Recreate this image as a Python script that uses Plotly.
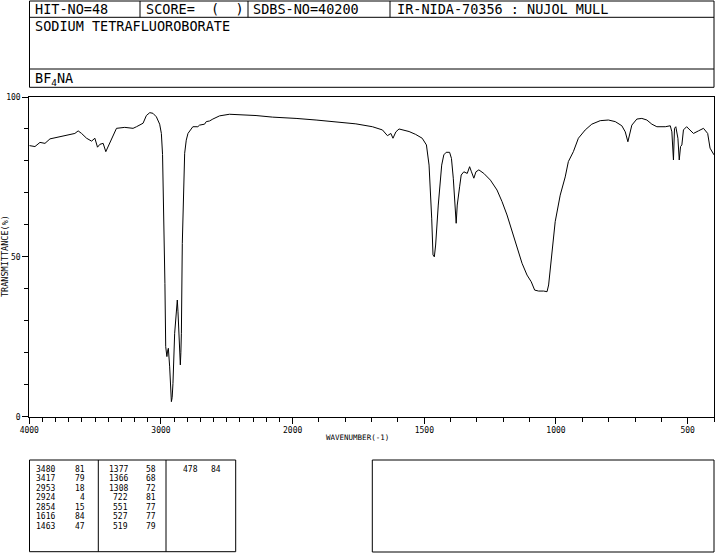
import numpy as np
import plotly.graph_objects as go

W, H = 715, 553

# ---------------- data ----------------
wavenumber = [4000, 3957, 3919, 3881, 3843, 3792, 3742, 3692, 3654, 3629, 3603, 3565, 3527, 3502,
              3482, 3464, 3439, 3419, 3402, 3376, 3338, 3275, 3212, 3186, 3161, 3136, 3111, 3085,
              3061, 3035, 3010, 2997, 2988, 2983, 2977, 2970, 2964, 2960, 2955, 2950, 2944, 2934,
              2927, 2921, 2915, 2909, 2896, 2883, 2876, 2871, 2866, 2858, 2853, 2849, 2845, 2838,
              2830, 2820, 2808, 2795, 2758, 2720, 2707, 2669, 2656, 2631, 2606, 2555, 2480, 2379,
              2278, 2152, 2051, 1987, 1911, 1836, 1760, 1697, 1659, 1640, 1627, 1619, 1608, 1596,
              1558, 1533, 1508, 1492, 1482, 1472, 1467, 1462, 1457, 1447, 1434, 1426, 1417, 1404,
              1397, 1390, 1384, 1379, 1375, 1371, 1366, 1360, 1350, 1337, 1328, 1321, 1312, 1304,
              1293, 1274, 1249, 1224, 1205, 1186, 1167, 1148, 1129, 1110, 1094, 1081, 1066, 1047,
              1034, 1028, 1015, 1003, 984, 965, 953, 934, 915, 889, 864, 832, 801, 775, 750, 737,
              727, 722, 712, 693, 674, 655, 636, 617, 585, 566, 560, 554, 550, 545, 537, 532, 527,
              522, 516, 504, 491, 478, 459, 440, 424, 415, 400]
transmittance = [84.8, 84.5, 85.8, 85.5, 86.9, 87.4, 87.7, 88.3, 88.6, 89.4, 88.6, 87.1, 86.2, 87.1,
                 84.3, 85.2, 85.5, 82.9, 84.5, 87.1, 90.2, 90.5, 90.2, 90.7, 91.2, 91.8, 94.2, 95.1,
                 94.9, 93.8, 91.5, 88.6, 82.0, 72.0, 57.4, 41.7, 21.9, 19.5, 18.8, 20.5, 21.4, 15.6,
                 8.0, 4.7, 6.0, 10.4, 26.1, 33.9, 36.5, 33.0, 28.2, 21.9, 16.2, 20.0, 26.1, 54.2,
                 72.0, 82.4, 86.5, 88.6, 90.7, 90.7, 91.2, 91.5, 92.3, 92.5, 93.1, 94.1, 94.6, 94.4,
                 94.2, 93.7, 93.5, 93.3, 92.8, 92.3, 91.6, 90.7, 89.7, 87.9, 88.6, 87.1, 89.1, 90.0,
                 89.2, 88.3, 87.1, 85.0, 78.7, 62.1, 50.6, 50.0, 53.7, 66.2, 78.7, 81.9, 82.7, 82.7,
                 80.8, 74.6, 67.3, 60.5, 66.2, 69.9, 71.9, 75.6, 76.6, 76.1, 78.2, 76.6, 74.6, 76.6,
                 77.2, 76.1, 74.0, 70.9, 67.3, 63.1, 57.9, 52.7, 48.0, 44.3, 42.2, 39.6, 39.3, 39.3,
                 39.1, 41.2, 52.7, 61.0, 69.3, 75.0, 79.8, 82.9, 87.1, 89.7, 91.5, 92.6, 92.8, 92.3, 91.0, 89.1,
                 86.0, 88.1, 91.2, 93.1, 93.3, 92.8, 91.5, 90.7, 90.7, 91.0, 89.1, 80.3, 90.2, 90.7, 87.1, 80.3, 84.5,
                 85.0, 89.7, 90.7, 89.7, 88.6, 89.4, 90.2, 88.6, 84.0, 81.9]

peak_wn = [3480, 3417, 2953, 2924, 2854, 1616, 1463,
           1377, 1366, 1308, 722, 551, 527, 519,
           478]
peak_t = [81, 79, 18, 4, 15, 84, 47,
          58, 68, 72, 81, 77, 77, 79,
          84]

x_tick_wn = [4000, 3000, 2000, 1500, 1000, 500]
x_tick_text = ["4000", "3000", "2000", "1500", "1000", "500"]
y_tick_vals = [0, 50, 100]
y_tick_text = ["0", "50", "100"]

title_hit = "HIT-NO=48"
title_score = "SCORE=\u00a0\u00a0(\u00a0\u00a0)"
title_sdbs = "SDBS-NO=40200"
title_ir = "IR-NIDA-70356 : NUJOL MULL"
compound = "SODIUM TETRAFLUOROBORATE"
formula = "BF<sub>4</sub>NA"


# piecewise wavenumber scale (2000-400 at double scale)
def wn_to_t(w):
    w = np.asarray(w, dtype=float)
    return np.where(w >= 2000, 4000 - w, 2000 + 2 * (2000 - w))


def px(x):
    return x / W


def py(y):
    return 1 - y / H


MONO = "DejaVu Sans Mono"

fig = go.Figure()
fig.add_trace(go.Scatter(x=wn_to_t(wavenumber), y=transmittance, mode="lines",
                         line=dict(color="black", width=1), hoverinfo="skip"))

minor_wn = [w for w in range(3900, 399, -100) if w not in x_tick_wn]

fig.update_layout(
    width=W, height=H, margin=dict(l=0, r=0, t=0, b=0, pad=0, autoexpand=False),
    paper_bgcolor="white", plot_bgcolor="white", showlegend=False,
    font=dict(family=MONO, color="black", size=8),
    xaxis=dict(domain=[px(29.3), px(714)], range=[0, 5200], showgrid=False, zeroline=False,
               automargin=False,
               showline=True, mirror=True, linecolor="black", linewidth=1,
               tickmode="array", tickvals=list(wn_to_t(x_tick_wn)), ticktext=x_tick_text,
               ticks="outside", ticklen=6, tickcolor="black", tickwidth=1,
               tickfont=dict(family=MONO, size=8),
               minor=dict(tickmode="array", tickvals=list(wn_to_t(minor_wn)), ticks="outside",
                          ticklen=4, tickcolor="black", tickwidth=1, showgrid=False)),
    yaxis=dict(domain=[py(416.7), py(97)], range=[0, 100], showgrid=False, zeroline=False,
               automargin=False,
               showline=True, mirror=True, linecolor="black", linewidth=1,
               tickmode="array", tickvals=y_tick_vals, ticktext=y_tick_text,
               ticks="outside", ticklen=6, tickcolor="black", tickwidth=1,
               tickfont=dict(family=MONO, size=8),
               minor=dict(tickmode="array", tickvals=list(range(10, 100, 10)), ticks="outside",
                          ticklen=4, tickcolor="black", tickwidth=1, showgrid=False)),
)

shapes = []


def line(x0, y0, x1, y1):
    shapes.append(dict(type="line", xref="paper", yref="paper", x0=px(x0), y0=py(y0),
                       x1=px(x1), y1=py(y1), line=dict(color="black", width=1)))


def rect(x0, y0, x1, y1):
    shapes.append(dict(type="rect", xref="paper", yref="paper", x0=px(x0), y0=py(y0),
                       x1=px(x1), y1=py(y1), line=dict(color="black", width=1)))


# header
rect(29.5, 1, 714, 87.3)
line(29.5, 17.3, 714, 17.3)
line(29.5, 69, 714, 69)
for xv in (140, 248, 390):
    line(xv, 1, xv, 17.3)
# bottom tables
rect(29.5, 460, 235.7, 551.7)
line(98.3, 460, 98.3, 551.7)
line(166, 460, 166, 551.7)
rect(372.3, 460, 714, 552)

fig.update_layout(shapes=shapes)

ann = []


def text(x, y, s, size=13.5, anchor="left", angle=0):
    ann.append(dict(x=px(x), y=py(y), xref="paper", yref="paper", text=s, showarrow=False,
                    xanchor=anchor, yanchor="middle", textangle=angle,
                    font=dict(family=MONO, size=size, color="black"), borderpad=0))


text(34, 9.5, title_hit)
text(144.5, 9.5, title_score)
text(252, 9.5, title_sdbs)
text(395.5, 9.5, title_ir)
text(34, 26, compound)
text(34, 78.5, formula)

# axis titles
text(357.5, 437, "WAVENUMBER(-1)", size=7.5, anchor="center")
text(5, 256, "TRANSMITTANCE(%)", size=8.5, anchor="center", angle=-90)

# peak table
col_wn_right = [55.5, 128.5, 198.5]
col_t_right = [85.5, 157, 222]
for i, (w, t) in enumerate(zip(peak_wn, peak_t)):
    c, r = divmod(i, 7)
    yv = 469.3 + r * 9.5
    text(col_wn_right[c], yv, str(w), size=8, anchor="right")
    text(col_t_right[c], yv, str(t), size=8, anchor="right")

fig.update_layout(annotations=ann)

fig.write_html("out.html", config={"displayModeBar": False},
               post_script="document.body.style.margin='0';document.body.style.overflow='hidden';")
